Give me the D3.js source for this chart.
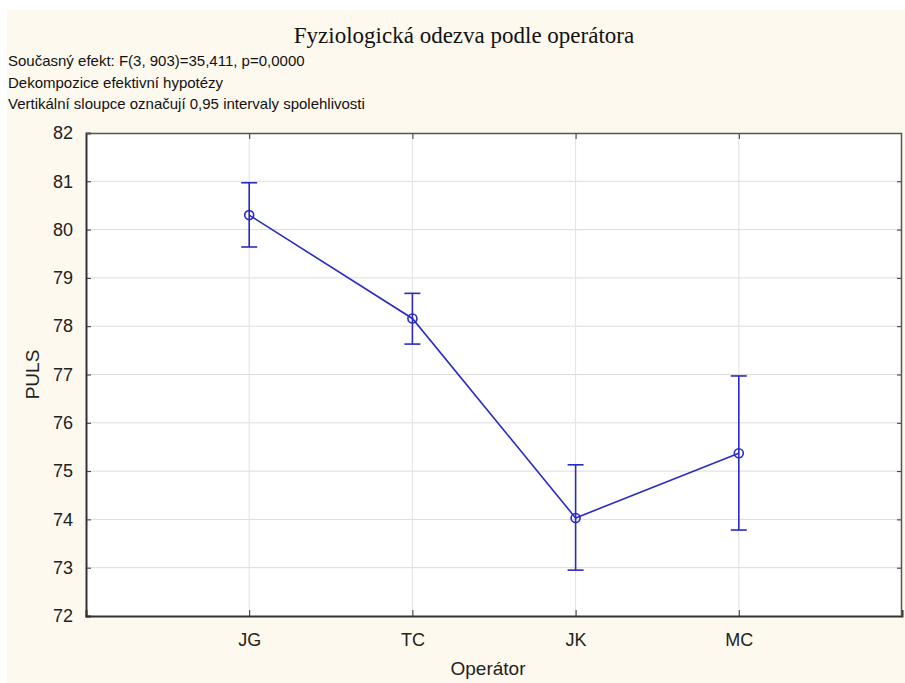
<!DOCTYPE html>
<html>
<head>
<meta charset="utf-8">
<script src="https://cdn.jsdelivr.net/npm/d3@7"></script>
<style>
  body { margin: 0; background: #ffffff; }
  svg { display: block; }
</style>
</head>
<body>
<div id="chart"></div>
<script>
// data
const operators = ["JG", "TC", "JK", "MC"];
const means = [80.30, 78.16, 74.03, 75.37];
const upper = [80.97, 78.68, 75.13, 76.97];
const lower = [79.64, 77.63, 72.95, 73.78];
const yTicks = [72, 73, 74, 75, 76, 77, 78, 79, 80, 81, 82];

const subtitleLines = [
  "Současný efekt: F(3, 903)=35,411, p=0,0000",
  "Dekompozice efektivní hypotézy",
  "Vertikální sloupce označují 0,95 intervaly spolehlivosti"
];

const W = 905, H = 683;
const margin = { top: 133, right: 3, bottom: 67, left: 86 };
const width = W - margin.left - margin.right;
const height = H - margin.top - margin.bottom;
const blue = "#2a2ac4";
const sans = "Liberation Sans, Arial, sans-serif";

const svg = d3.select("#chart").append("svg")
    .attr("width", W)
    .attr("height", H);

// cream page background (thin white strip on top / left)
svg.append("rect")
    .attr("x", 7).attr("y", 10)
    .attr("width", W - 7).attr("height", H - 10)
    .attr("fill", "#fdf9ee");

svg.append("text")
    .attr("x", 464).attr("y", 43)
    .attr("text-anchor", "middle")
    .attr("font-family", "Liberation Serif, Times New Roman, serif")
    .attr("font-size", 23)
    .attr("fill", "#111")
    .text("Fyziologická odezva podle operátora");

svg.selectAll(".sub")
    .data(subtitleLines)
    .enter().append("text")
    .attr("class", "sub")
    .attr("x", 8)
    .attr("y", (d, i) => 66 + i * 21.5)
    .attr("font-family", sans)
    .attr("font-size", 15)
    .attr("fill", "#111")
    .text(d => d);

const g = svg.append("g")
    .attr("transform", `translate(${margin.left},${margin.top})`);

const x = d3.scaleLinear()
    .domain([0, operators.length + 1])
    .range([0, width]);

const y = d3.scaleLinear()
    .domain([72, 82])
    .range([height, 0]);

g.append("rect")
    .attr("width", width).attr("height", height)
    .attr("fill", "#ffffff");

// grid
g.append("g")
    .selectAll("line")
    .data(yTicks.slice(1, -1))
    .enter().append("line")
    .attr("x1", 0).attr("x2", width)
    .attr("y1", d => y(d)).attr("y2", d => y(d))
    .attr("stroke", "#dcdcdc");

g.append("g")
    .selectAll("line")
    .data(operators)
    .enter().append("line")
    .attr("x1", (d, i) => x(i + 1)).attr("x2", (d, i) => x(i + 1))
    .attr("y1", 0).attr("y2", height)
    .attr("stroke", "#e2e2e2");

// axes, ticks inside
const xAxis = g.append("g")
    .attr("transform", `translate(0,${height})`)
    .call(d3.axisBottom(x)
        .tickValues(operators.map((d, i) => i + 1))
        .tickFormat(d => operators[d - 1])
        .tickSize(-6).tickPadding(17));

const yAxis = g.append("g")
    .call(d3.axisLeft(y)
        .tickValues(yTicks)
        .tickFormat(d3.format("d"))
        .tickSize(-5).tickPadding(13));

g.append("g")
    .call(d3.axisTop(x)
        .tickValues(operators.map((d, i) => i + 1))
        .tickFormat(""))
    .call(a => a.selectAll(".tick line").attr("y2", 6))
    .call(a => a.select(".domain").remove());

g.append("g")
    .attr("transform", `translate(${width},0)`)
    .call(d3.axisRight(y)
        .tickValues(yTicks)
        .tickFormat("")
        .tickSize(-5))
    .call(a => a.select(".domain").remove());

[xAxis, yAxis].forEach(a => {
  a.selectAll("text")
      .attr("font-family", sans)
      .attr("font-size", 18)
      .attr("fill", "#222");
  a.select(".domain").attr("stroke", "#333").attr("stroke-width", 2);
});
g.selectAll(".tick line").attr("stroke", "#333");

// top / right frame
g.append("path")
    .attr("d", `M0,0.5H${width - 0.5}V${height}`)
    .attr("fill", "none")
    .attr("stroke", "#555")
    .attr("stroke-width", 1.5);

// axis titles
svg.append("text")
    .attr("transform", `translate(39,${margin.top + height / 2}) rotate(-90)`)
    .attr("text-anchor", "middle")
    .attr("font-family", sans)
    .attr("font-size", 19)
    .attr("fill", "#222")
    .text("PULS");

svg.append("text")
    .attr("x", margin.left + width / 2 - 6)
    .attr("y", 675)
    .attr("text-anchor", "middle")
    .attr("font-family", sans)
    .attr("font-size", 19)
    .attr("fill", "#222")
    .text("Operátor");

// error bars
const bars = g.append("g")
    .attr("stroke", blue)
    .attr("stroke-width", 1.6);

operators.forEach((op, i) => {
  const cx = x(i + 1);
  bars.append("line")
      .attr("x1", cx).attr("x2", cx)
      .attr("y1", y(lower[i])).attr("y2", y(upper[i]));
  [lower[i], upper[i]].forEach(v => {
    bars.append("line")
        .attr("x1", cx - 8).attr("x2", cx + 8)
        .attr("y1", y(v)).attr("y2", y(v));
  });
});

// mean line + markers
const line = d3.line()
    .x((d, i) => x(i + 1))
    .y(d => y(d));

g.append("path")
    .datum(means)
    .attr("d", line)
    .attr("fill", "none")
    .attr("stroke", blue)
    .attr("stroke-width", 1.6);

g.selectAll(".pt")
    .data(means)
    .enter().append("circle")
    .attr("class", "pt")
    .attr("cx", (d, i) => x(i + 1))
    .attr("cy", d => y(d))
    .attr("r", 4.5)
    .attr("fill", "none")
    .attr("stroke", blue)
    .attr("stroke-width", 1.6);
</script>
</body>
</html>
